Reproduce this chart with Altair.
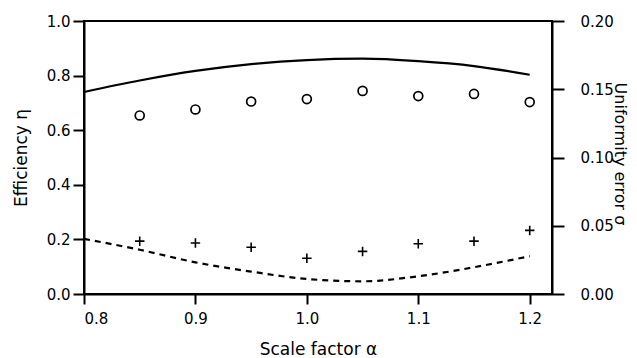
import altair as alt
import pandas as pd

# --- data ---
x_theory = [0.80, 0.85, 0.90, 0.95, 1.00, 1.05, 1.10, 1.15, 1.20]
eff_theory = [0.740, 0.782, 0.817, 0.842, 0.857, 0.862, 0.853, 0.835, 0.803]
sigma_theory = [0.0404, 0.0324, 0.0232, 0.0164, 0.0110, 0.0093, 0.0130, 0.0196, 0.0277]

x_meas = [0.85, 0.90, 0.95, 1.00, 1.05, 1.10, 1.15, 1.20]
eff_meas = [0.654, 0.676, 0.705, 0.714, 0.744, 0.725, 0.733, 0.703]
sigma_meas = [0.0387, 0.0374, 0.0342, 0.0262, 0.0312, 0.0368, 0.0387, 0.0466]

x_ticks = [0.8, 0.9, 1.0, 1.1, 1.2]
eff_ticks = [0.0, 0.2, 0.4, 0.6, 0.8, 1.0]
sigma_ticks = [0.00, 0.05, 0.10, 0.15, 0.20]

theory = pd.DataFrame({"x": x_theory, "eff": eff_theory, "sigma": sigma_theory})
meas = pd.DataFrame({"x": x_meas, "eff": eff_meas, "sigma": sigma_meas})

FONT = "DejaVu Sans"
W, H = 468, 273

xenc = alt.X(
    "x:Q",
    scale=alt.Scale(domain=[0.8, 1.22], nice=False, zero=False),
    axis=alt.Axis(
        values=x_ticks, format=".1f", title="Scale factor α",
        tickSize=10, labelPadding=7, titleY=55, titleBaseline="middle",
    ),
)

eff_axis = alt.Axis(
    values=eff_ticks, format=".1f", title="Efficiency η",
    tickSize=11, labelPadding=3,
    titleX=-63, titleY=H / 2, titleAngle=-90,
    titleAlign="center", titleBaseline="middle",
)
eff_scale = alt.Scale(domain=[0, 1], nice=False)

sig_axis = alt.Axis(
    values=sigma_ticks, format=".2f", title="Uniformity error σ", orient="right",
    tickSize=12, labelPadding=16,
    titleX=67, titleY=H / 2 - 4, titleAngle=90, titleFontSize=16,
    titleAlign="center", titleBaseline="middle",
)
sig_scale = alt.Scale(domain=[0, 0.2], nice=False)

eff_line = alt.Chart(theory).mark_line(
    color="black", strokeWidth=2.2, interpolate="monotone"
).encode(x=xenc, y=alt.Y("eff:Q", scale=eff_scale, axis=eff_axis))

eff_pts = alt.Chart(meas).mark_point(
    shape="circle", filled=False, color="black", strokeWidth=1.7, size=80, opacity=1
).encode(x=xenc, y=alt.Y("eff:Q", scale=eff_scale, axis=eff_axis))

sig_line = alt.Chart(theory).mark_line(
    color="black", strokeWidth=2.2, strokeDash=[6, 5], interpolate="monotone"
).encode(x=xenc, y=alt.Y("sigma:Q", scale=sig_scale, axis=sig_axis))

sig_pts = alt.Chart(meas).mark_point(
    shape="M-1,0L1,0M0,-1L0,1", filled=False, color="black",
    strokeWidth=1.6, size=90, opacity=1
).encode(x=xenc, y=alt.Y("sigma:Q", scale=sig_scale, axis=sig_axis))

left = alt.layer(eff_line, eff_pts)
right = alt.layer(sig_line, sig_pts)

chart = (
    alt.layer(left, right)
    .resolve_scale(y="independent")
    .properties(
        width=W, height=H,
        autosize=alt.AutoSizeParams(type="none"),
        padding={"left": 76, "top": 13, "right": 77, "bottom": 63},
    )
    .configure_view(stroke="black", strokeWidth=2)
    .configure_axis(
        domainColor="black", domainWidth=2, tickColor="black", tickWidth=2,
        labelColor="black", titleColor="black",
        labelFont=FONT, titleFont=FONT, labelFontSize=15, titleFontSize=17,
        labelFontWeight="normal", titleFontWeight="normal", grid=False,
    )
)

chart.save("out.html", embed_options={"renderer": "svg", "actions": False})
